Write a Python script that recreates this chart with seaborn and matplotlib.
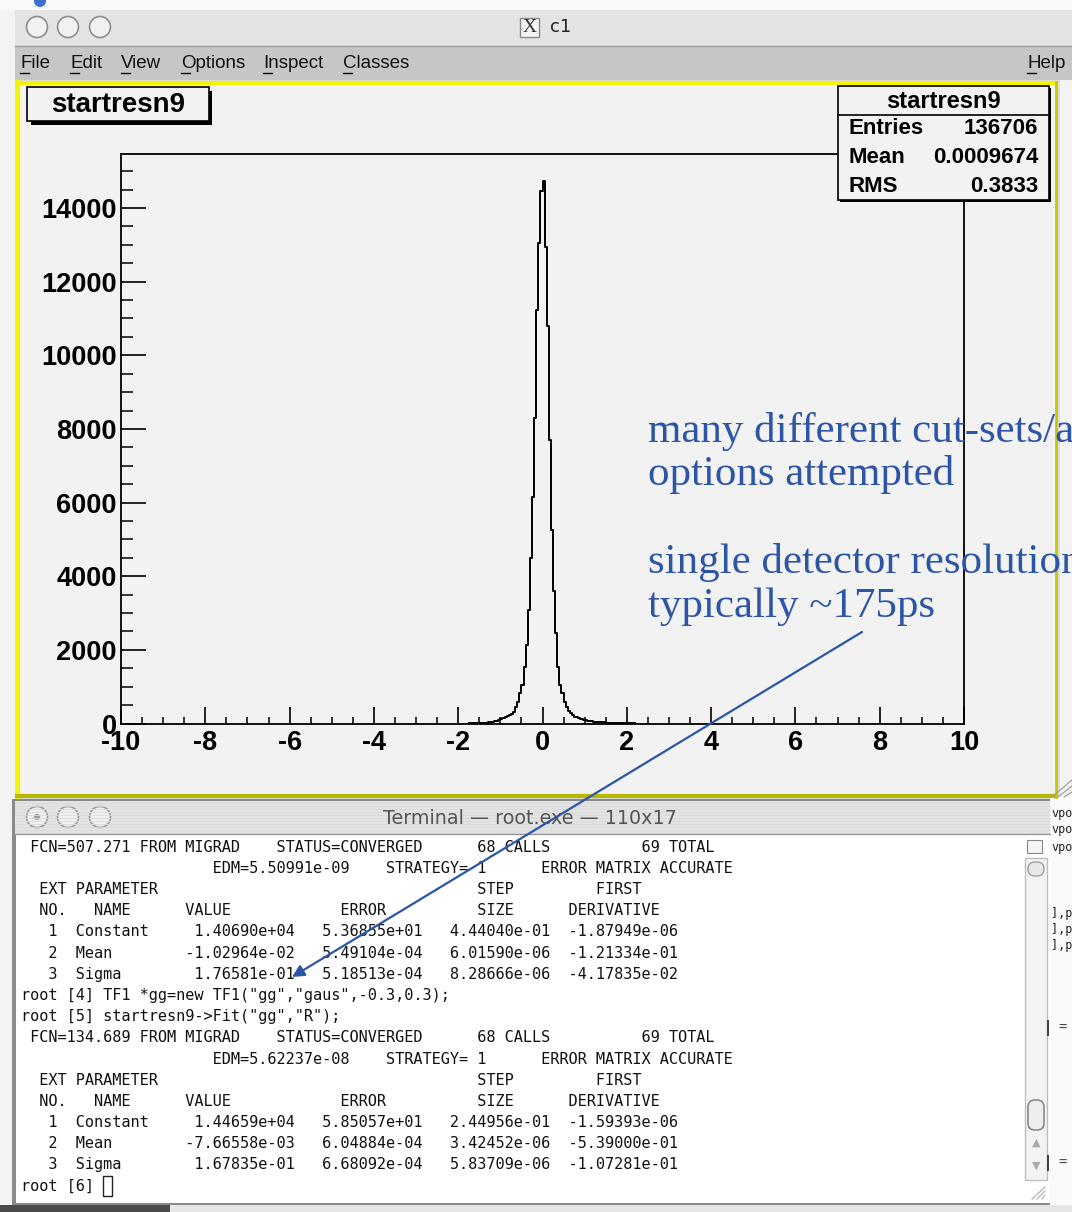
import numpy as np
import pandas as pd
import matplotlib
matplotlib.use("Agg")
import matplotlib.pyplot as plt
import seaborn as sns
from matplotlib.patches import Rectangle, Circle, FancyBboxPatch

# ---------------- data ----------------
hist_name = "startresn9"
bin_lo = -1.75
bin_width = 0.05
counts = [3, 5, 7, 9, 12, 16, 20, 22, 27, 33, 40, 49, 60, 76, 90,
          114, 141, 185, 204, 231, 258, 321, 457, 593, 820, 1046, 1544, 2133,
          3084, 4489, 6163, 8302, 11236, 13049, 14451,
          14742, 12940, 10802, 7704, 5258, 3609, 2451, 1544, 1046, 820, 593,
          457, 348, 277, 231, 185, 168, 141, 122, 103, 85, 72, 62, 55, 45,
          40, 36, 32, 30, 28, 25, 22, 20, 18, 16, 15, 14, 13, 12, 11, 10,
          9, 8, 6]
x_ticks = [-10, -8, -6, -4, -2, 0, 2, 4, 6, 8, 10]
y_ticks = [0, 2000, 4000, 6000, 8000, 10000, 12000, 14000]
stats_labels = ["Entries", "Mean", "RMS"]
stats_values = ["136706", "0.0009674", "0.3833"]
menu_items = ["File", "Edit", "View", "Options", "Inspect", "Classes"]
annotation_lines = ["many different cut-sets/a", "options attempted",
                    "single detector resolution", "typically ~175ps"]
terminal_lines = [
    " FCN=507.271 FROM MIGRAD    STATUS=CONVERGED      68 CALLS          69 TOTAL",
    "                     EDM=5.50991e-09    STRATEGY= 1      ERROR MATRIX ACCURATE",
    "  EXT PARAMETER                                   STEP         FIRST",
    "  NO.   NAME      VALUE            ERROR          SIZE      DERIVATIVE",
    "   1  Constant     1.40690e+04   5.36855e+01   4.44040e-01  -1.87949e-06",
    "   2  Mean        -1.02964e-02   5.49104e-04   6.01590e-06  -1.21334e-01",
    "   3  Sigma        1.76581e-01   5.18513e-04   8.28666e-06  -4.17835e-02",
    'root [4] TF1 *gg=new TF1("gg","gaus",-0.3,0.3);',
    'root [5] startresn9->Fit("gg","R");',
    " FCN=134.689 FROM MIGRAD    STATUS=CONVERGED      68 CALLS          69 TOTAL",
    "                     EDM=5.62237e-08    STRATEGY= 1      ERROR MATRIX ACCURATE",
    "  EXT PARAMETER                                   STEP         FIRST",
    "  NO.   NAME      VALUE            ERROR          SIZE      DERIVATIVE",
    "   1  Constant     1.44659e+04   5.85057e+01   2.44956e-01  -1.59393e-06",
    "   2  Mean        -7.66558e-03   6.04884e-04   3.42452e-06  -5.39000e-01",
    "   3  Sigma        1.67835e-01   6.68092e-04   5.83709e-06  -1.07281e-01",
    "root [6] ",
]

# ---------------- figure ----------------
W, H = 1072, 1212
plt.rcParams["font.family"] = ["Liberation Sans", "DejaVu Sans"]
plt.rcParams["axes.unicode_minus"] = False
fig = plt.figure(figsize=(W / 100, H / 100), dpi=100)

bg = fig.add_axes([0, 0, 1, 1], zorder=0)
bg.axis("off")


def rect(ax, x0, y0, x1, y1, **kw):
    ax.add_patch(Rectangle((x0, y0), x1 - x0, y1 - y0, **kw))


# desktop / surroundings
rect(bg, 0, 0, W, H, fc="#f3f3f3", ec="none")
rect(bg, 0, 0, W, 10, fc="#fafafa", ec="none")
bg.add_patch(Circle((40, 1), 6, fc="#3a6fd0", ec="none"))
grad = np.linspace(0.55, 0.2, 200).reshape(-1, 1)
bg.imshow(grad, extent=(0, 15, H, 10), cmap="gray", vmin=0, vmax=1, aspect="auto")
bg.set_xlim(0, W)
bg.set_ylim(H, 0)

# c1 window: title bar
rect(bg, 15, 10, W, 46, fc="#e4e4e4", ec="none")
bg.plot([15, W], [46, 46], color="#9a9a9a", lw=1)
for cx in (37, 68, 100):
    bg.add_patch(Circle((cx, 27), 10.5, fc="#f2f2f2", ec="#8f8f8f", lw=1.2))
rect(bg, 520, 18, 539, 37, fc="#f4f4f4", ec="#8a8a8a", lw=1)
bg.text(529.5, 27.5, "X", ha="center", va="center", fontsize=14,
        family="Liberation Serif", color="#333")
bg.text(550, 27, "c1", ha="left", va="center", fontsize=13,
        family="DejaVu Sans", color="#222")

# menu bar
rect(bg, 15, 46, W, 80, fc="#c6c6c6", ec="none")
menu_x = [20, 70, 121, 181, 263, 343]
for label, mx in zip(menu_items, menu_x):
    bg.text(mx, 63, label, ha="left", va="center", fontsize=13.5,
            family=["Liberation Sans Narrow", "Liberation Sans"], color="#111")
    bg.plot([mx, mx + 9], [73, 73], color="#111", lw=1)
bg.text(1066, 63, "Help", ha="right", va="center", fontsize=13.5,
        family=["Liberation Sans Narrow", "Liberation Sans"], color="#111")
bg.plot([1027, 1036], [73, 73], color="#111", lw=1)

# canvas with yellow frame
rect(bg, 15, 80, 1060, 799, fc="#dcdcdc", ec="none")
rect(bg, 17, 82, 1056, 797, fc="#f2f2f2", ec="none")
bg.plot([17, 1056], [82.5, 82.5], color="#f4f400", lw=3)
bg.plot([17.5, 17.5], [82, 797], color="#f4f400", lw=3)
bg.plot([17, 1056], [796, 796], color="#b8b800", lw=3)
bg.plot([1055.5, 1055.5], [82, 797], color="#c8c800", lw=2)

# histogram title box
rect(bg, 31, 91, 212, 125, fc="black", ec="none")
rect(bg, 27, 87, 209, 121, fc="#f2f2f2", ec="black", lw=1.2)
bg.text(118, 105, hist_name, ha="center", va="center", fontsize=20,
        fontweight="bold", color="black")

# terminal window
rect(bg, 12, 799, 1052, 1206, fc="#8a8a8a", ec="none")
rect(bg, 15, 801, 1050, 834, fc="#e3e3e3", ec="none")
for yy in np.arange(803, 834, 3):
    bg.plot([15, 1050], [yy, yy], color="#dadada", lw=0.6)
bg.plot([15, 1050], [834, 834], color="#9a9a9a", lw=1)
for cx in (37, 68, 100):
    bg.add_patch(Circle((cx, 817), 10.5, fc="#f0f0f0", ec="#9a9a9a", lw=1.2))
bg.add_patch(Circle((37, 817), 3.2, fc="#a0a0a0", ec="none"))
bg.text(530, 818, "Terminal \u2014 root.exe \u2014 110x17", ha="center", va="center",
        fontsize=13.8, family="DejaVu Sans", color="#555555")
rect(bg, 16, 835, 1050, 1203, fc="white", ec="none")

# terminal text
row0, row_step = 847, 21.2
for i, line in enumerate(terminal_lines):
    bg.text(21, row0 + i * row_step, line, ha="left", va="center",
            fontsize=10.95, family="DejaVu Sans Mono", color="#111")
rect(bg, 103, 1176, 112, 1196, fc="none", ec="#222", lw=1)

# scrollbar
rect(bg, 1027, 840, 1042, 853, fc="#f4f4f4", ec="#888", lw=0.8)
rect(bg, 1025, 858, 1047, 1180, fc="#f3f3f3", ec="#bdbdbd", lw=1)
bg.add_patch(FancyBboxPatch((1028, 862), 16, 14, boxstyle="round,pad=0,rounding_size=7",
                            fc="#e8e8e8", ec="#a0a0a0", lw=1))
bg.add_patch(FancyBboxPatch((1028, 1100), 16, 30, boxstyle="round,pad=0,rounding_size=7",
                            fc="#eeeeee", ec="#8c8c8c", lw=1.2))
bg.text(1036, 1143, "\u25b2", ha="center", va="center", fontsize=8, color="#aaa",
        family="DejaVu Sans")
bg.text(1036, 1166, "\u25bc", ha="center", va="center", fontsize=8, color="#aaa",
        family="DejaVu Sans")
for k in range(3):
    bg.plot([1032 + 5 * k, 1045], [1199, 1187 + 4 * k], color="#aaa", lw=0.8)

# right-hand strip (other windows)
rect(bg, 1050, 797, W, 1212, fc="#fafafa", ec="none")
for yy in (814, 830, 847):
    bg.text(1051, yy, "vpo", ha="left", va="center", fontsize=8.5,
            family="DejaVu Sans Mono", color="#222")
for yy in (914, 930, 946):
    bg.text(1051, yy, "],p", ha="left", va="center", fontsize=8.5,
            family="DejaVu Sans Mono", color="#222")
for yy in (1028, 1163):
    bg.plot([1048, 1048], [yy - 7, yy + 7], color="#444", lw=1.5)
    bg.text(1058, yy, "=", ha="left", va="center", fontsize=10,
            family="DejaVu Sans Mono", color="#444")
for k in range(3):
    bg.plot([1052 + 6 * k, W], [797, 780 + 6 * k], color="#999", lw=0.8)

# bottom strip
rect(bg, 0, 1205, 170, H, fc="#4a4a4a", ec="none")
rect(bg, 170, 1205, W, H, fc="#e6e6e6", ec="none")

# ---------------- histogram (seaborn) ----------------
x0, x1 = 121, 964
y_top, y_bot = 154, 723.5
ax = fig.add_axes([x0 / W, 1 - y_bot / H, (x1 - x0) / W, (y_bot - y_top) / H], zorder=2)
edges = (bin_lo + bin_width * np.arange(len(counts) + 1)).tolist()
centers = [e + bin_width / 2 for e in edges[:-1]]
df = pd.DataFrame({"x": centers, "n": counts})
sns.histplot(data=df, x="x", weights="n", bins=edges, element="step", fill=False,
             color="black", linewidth=1.4, ax=ax)
ax.set_xlim(-10, 10)
ax.set_ylim(0, 15466)
ax.set_facecolor("#f2f2f2")
ax.set_xlabel("")
ax.set_ylabel("")
for s in ax.spines.values():
    s.set_color("black")
    s.set_linewidth(1.3)
ax.set_xticks(x_ticks)
ax.set_xticks(np.arange(-10, 10.01, 0.5), minor=True)
ax.set_yticks(y_ticks)
ax.set_yticks(np.arange(0, 15466, 500), minor=True)
ax.tick_params(axis="x", which="major", direction="in", length=12, width=1.2, pad=5,
               labelsize=19.5, bottom=True, top=False)
ax.tick_params(axis="x", which="minor", direction="in", length=5, width=1.1,
               bottom=True, top=False)
ax.tick_params(axis="y", which="major", direction="in", length=18, width=1.2, pad=3,
               labelsize=19.5, left=True, right=False)
ax.tick_params(axis="y", which="minor", direction="in", length=8.5, width=1.1,
               left=True, right=False)
for lbl in ax.get_xticklabels() + ax.get_yticklabels():
    lbl.set_fontweight("bold")
    lbl.set_family("Liberation Sans")

# ---------------- overlay: stats box, annotation, arrow ----------------
ov = fig.add_axes([0, 0, 1, 1], zorder=5)
ov.set_xlim(0, W)
ov.set_ylim(H, 0)
ov.axis("off")
ov.patch.set_alpha(0)

rect(ov, 840, 88, 1051, 202, fc="black", ec="none")
rect(ov, 838, 86, 1049, 200, fc="#f2f2f2", ec="black", lw=1.2)
ov.plot([838, 1049], [115, 115], color="black", lw=1.2)
ov.text(943, 101, hist_name, ha="center", va="center", fontsize=17,
        fontweight="bold", color="black")
for i, (lab, val) in enumerate(zip(stats_labels, stats_values)):
    yy = 129 + i * 28.5
    ov.text(848, yy, lab, ha="left", va="center", fontsize=16, fontweight="bold")
    ov.text(1038, yy, val, ha="right", va="center", fontsize=16, fontweight="bold")

blue = "#2d55a6"
for txt, yb in zip(annotation_lines, (441.7, 484.5, 573.3, 616.5)):
    ov.text(648, yb, txt, ha="left", va="baseline", fontsize=31,
            family="Liberation Serif", color=blue)
ov.annotate("", xy=(292, 977), xytext=(862, 632),
            arrowprops=dict(arrowstyle="-|>", color=blue, lw=1.6,
                            mutation_scale=18, shrinkA=0, shrinkB=0))

fig.savefig("out.png", dpi=100)
